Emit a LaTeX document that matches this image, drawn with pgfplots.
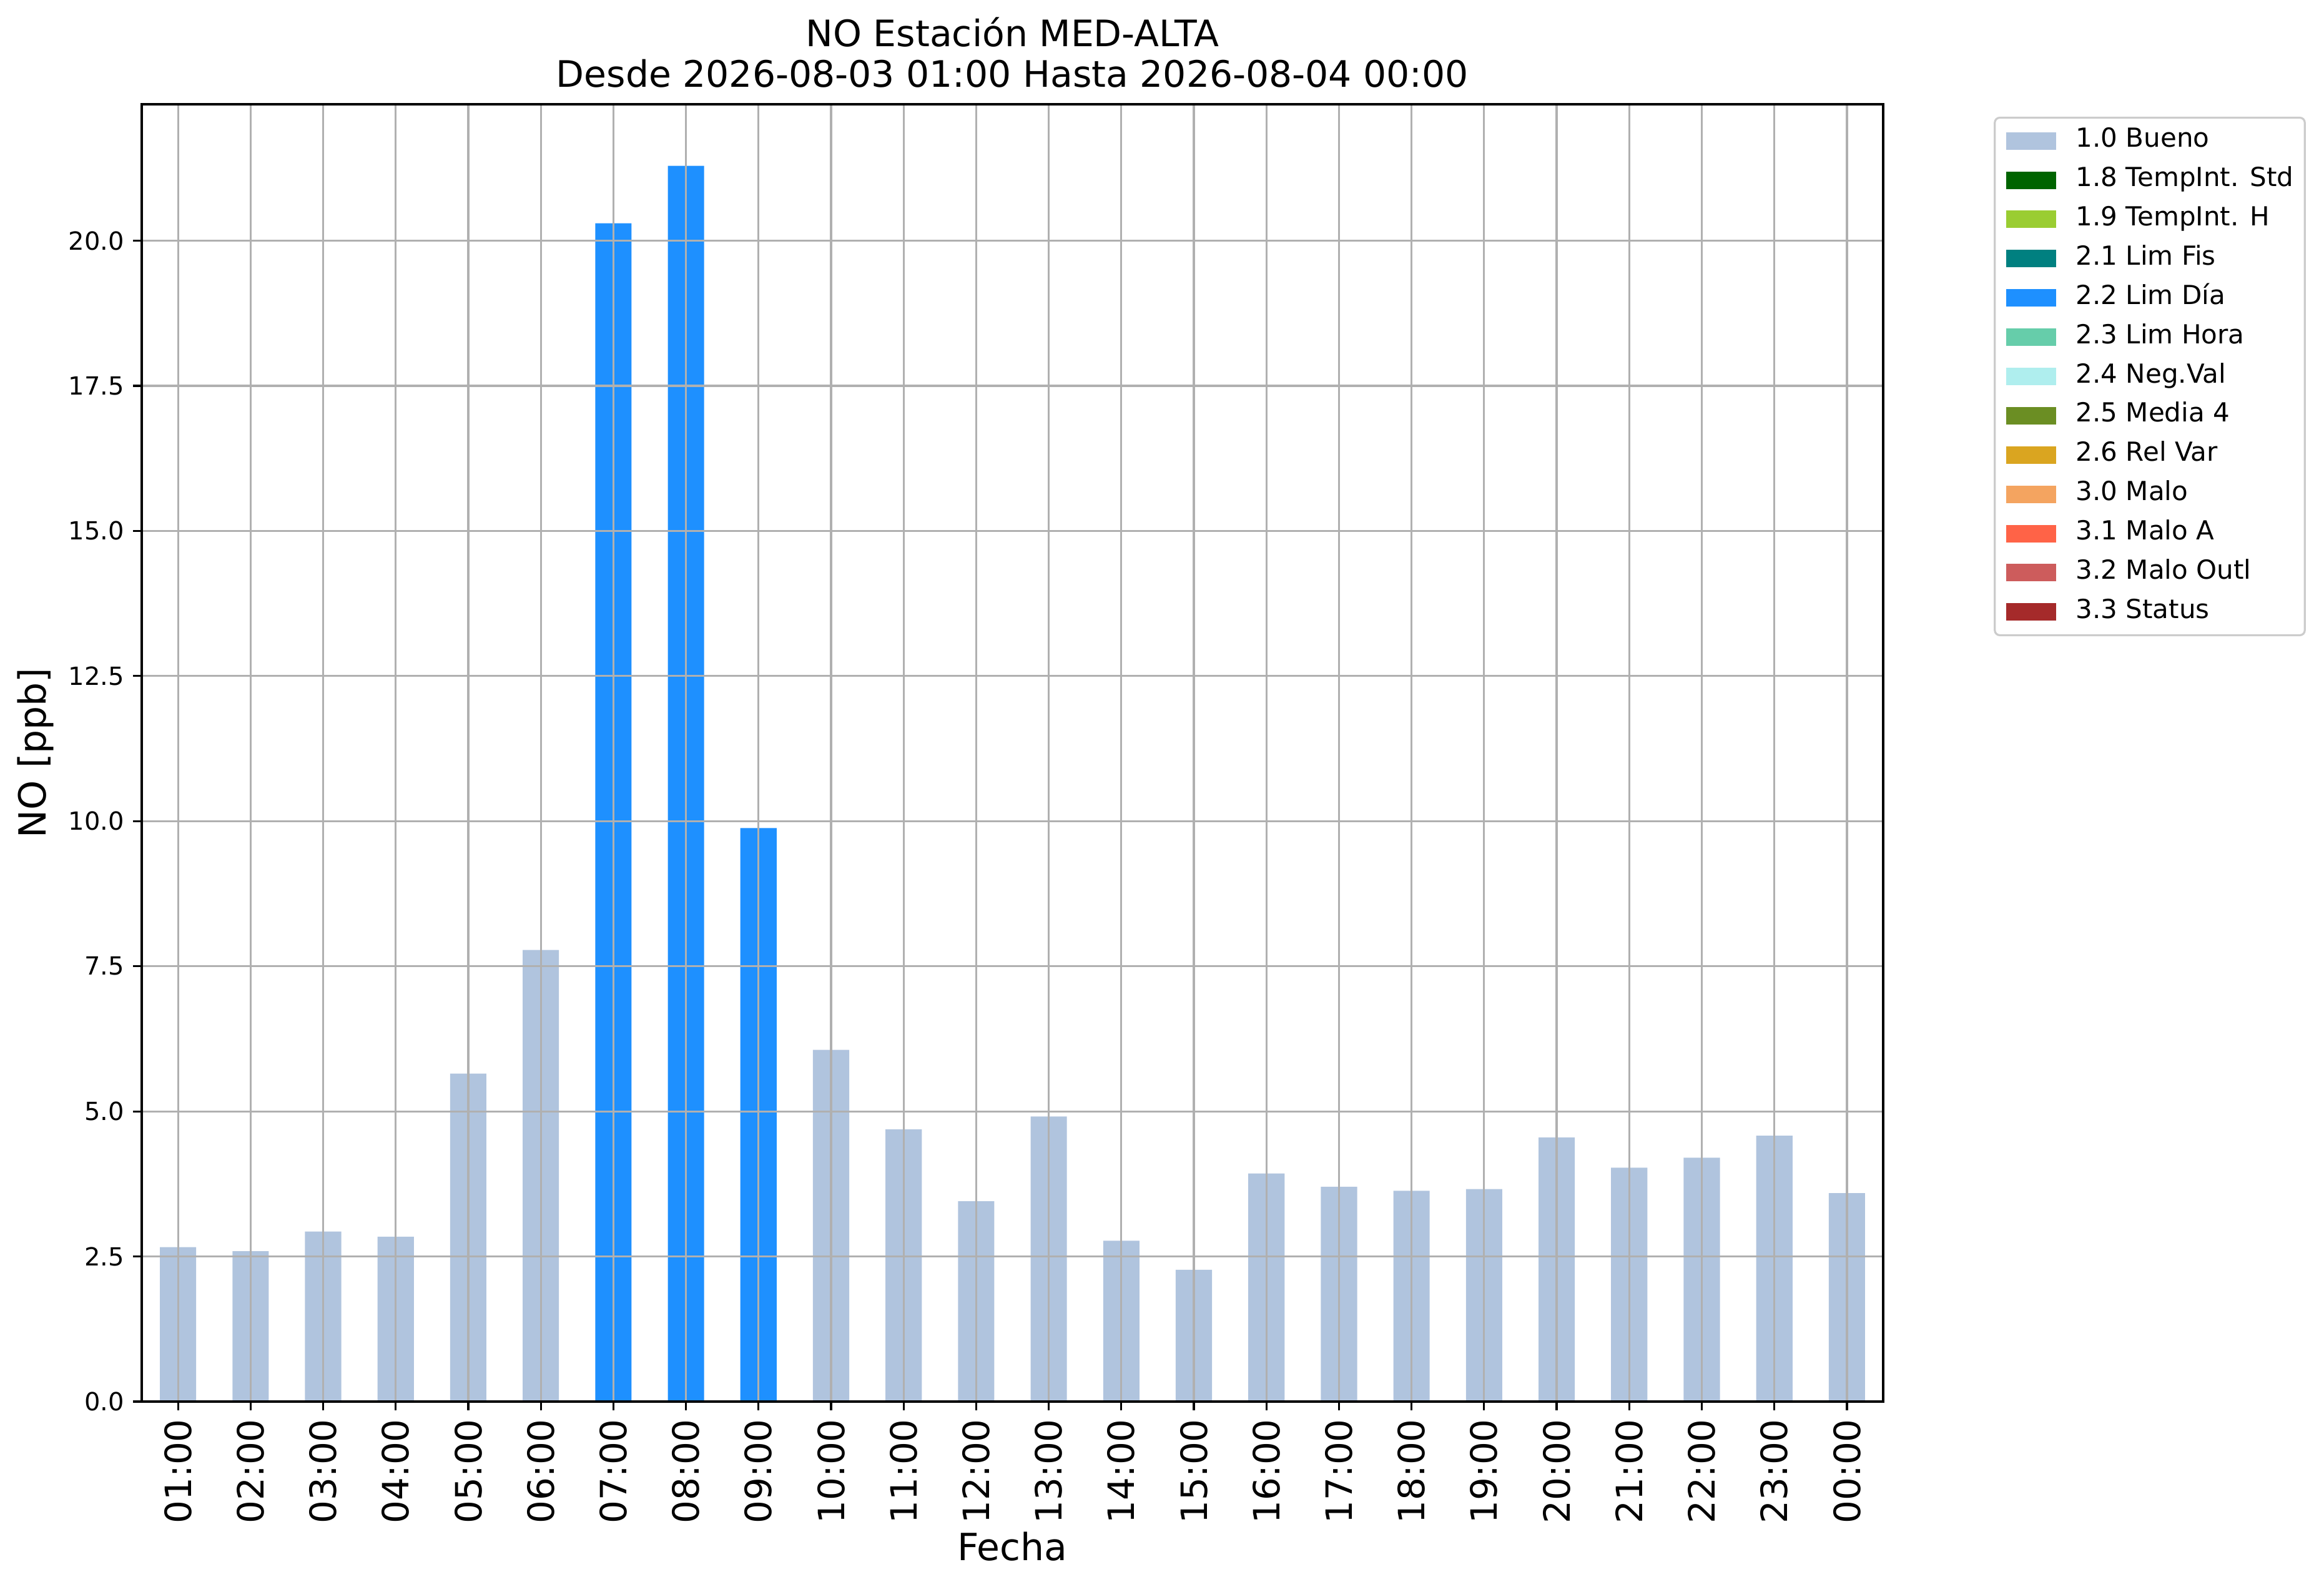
\documentclass[border=0pt]{standalone}
\usepackage{fontspec}
\setmainfont{DejaVu Sans}
\usepackage{pgfplots}
\pgfplotsset{compat=1.18}
\definecolor{c10}{HTML}{B0C4DE}
\definecolor{c18}{HTML}{006400}
\definecolor{c19}{HTML}{9ACD32}
\definecolor{c21}{HTML}{008080}
\definecolor{c22}{HTML}{1E90FF}
\definecolor{c23}{HTML}{66CDAA}
\definecolor{c24}{HTML}{AFEEEE}
\definecolor{c25}{HTML}{6B8E23}
\definecolor{c26}{HTML}{DAA520}
\definecolor{c30}{HTML}{F4A460}
\definecolor{c31}{HTML}{FF6347}
\definecolor{c32}{HTML}{CD5C5C}
\definecolor{c33}{HTML}{A52A2A}
\definecolor{gridgray}{HTML}{B0B0B0}
\definecolor{legframe}{HTML}{CCCCCC}
\begin{document}
\begin{tikzpicture}
\path[use as bounding box] (-56.75pt,-72.25pt) rectangle (873.75pt,561.25pt);
\begin{axis}[
  scale only axis,
  width=697.25pt, height=519.5pt,
  xmin=-0.5, xmax=23.5, ymin=0, ymax=22.35,
  clip mode=individual,
  xtick={0,1,...,23},
  xticklabels={01:00,02:00,03:00,04:00,05:00,06:00,07:00,08:00,09:00,10:00,11:00,12:00,13:00,14:00,15:00,16:00,17:00,18:00,19:00,20:00,21:00,22:00,23:00,00:00},
  ytick={0,2.5,5,7.5,10,12.5,15,17.5,20},
  yticklabel style={/pgf/number format/fixed, /pgf/number format/fixed zerofill, /pgf/number format/precision=1, font=\fontsize{10}{12}\selectfont},
  /pgf/number format/assume math mode=true,
  xticklabel style={rotate=90, anchor=east, font=\fontsize{14.5}{16}\selectfont},
  tick align=outside,
  xtick pos=left, ytick pos=left,
  major tick length=3.5pt,
  tick style={black, line width=0.8pt},
  axis line style={black, line width=0.8pt},
  grid=major,
  major grid style={gridgray, line width=0.8pt},
  axis on top,
  every axis x label/.style={at={(axis description cs:0.5,-0.1227)}, anchor=base, font=\fontsize{15}{18}\selectfont},
  every axis y label/.style={at={(axis description cs:-0.0549,0.5)}, anchor=base, rotate=90, font=\fontsize{15}{18}\selectfont},
  xlabel={Fecha},
  ylabel={NO [ppb]},
  legend image code/.code={\fill[#1, draw=none, sharp corners] (0pt,-3.5pt) rectangle (20pt,3.5pt);},
  legend style={
    at={(axis description cs:1.0635,0.9904)}, anchor=north west,
    draw=legframe, line width=0.8pt, rounded corners=2pt,
    font=\fontsize{10.5}{12}\selectfont,
    inner xsep=4.5pt, inner ysep=4.3pt,
    nodes={inner sep=0pt, text height=7.5pt, text depth=2.5pt},
    row sep=5.72pt, column sep=8pt,
    cells={anchor=west},
  },
]
\addlegendimage{fill=c10}\addlegendentry{1.0 Bueno}
\addlegendimage{fill=c18}\addlegendentry{1.8 TempInt. Std}
\addlegendimage{fill=c19}\addlegendentry{1.9 TempInt. H}
\addlegendimage{fill=c21}\addlegendentry{2.1 Lim Fis}
\addlegendimage{fill=c22}\addlegendentry{2.2 Lim Día}
\addlegendimage{fill=c23}\addlegendentry{2.3 Lim Hora}
\addlegendimage{fill=c24}\addlegendentry{2.4 Neg.Val}
\addlegendimage{fill=c25}\addlegendentry{2.5 Media 4}
\addlegendimage{fill=c26}\addlegendentry{2.6 Rel Var}
\addlegendimage{fill=c30}\addlegendentry{3.0 Malo}
\addlegendimage{fill=c31}\addlegendentry{3.1 Malo A}
\addlegendimage{fill=c32}\addlegendentry{3.2 Malo Outl}
\addlegendimage{fill=c33}\addlegendentry{3.3 Status}
\addplot[ybar, bar width=0.5, bar shift=0pt, fill=c10, draw=none, forget plot] coordinates {
(0,2.66) (1,2.59) (2,2.93) (3,2.84) (4,5.65) (5,7.78)
(9,6.06) (10,4.69) (11,3.45) (12,4.91) (13,2.77) (14,2.27) (15,3.93)
(16,3.70) (17,3.63) (18,3.66) (19,4.55) (20,4.03) (21,4.20) (22,4.58) (23,3.59)};
\addplot[ybar, bar width=0.5, bar shift=0pt, fill=c22, draw=none, forget plot] coordinates {
(6,20.30) (7,21.29) (8,9.88)};
\node[anchor=base, font=\fontsize{14.6}{16}\selectfont] at (axis description cs:0.5,1.0443) {NO Estación MED-ALTA};
\node[anchor=base, font=\fontsize{14.6}{16}\selectfont] at (axis description cs:0.5,1.0130) {Desde 2026-08-03 01:00 Hasta 2026-08-04 00:00};
\end{axis}
\end{tikzpicture}
\end{document}
